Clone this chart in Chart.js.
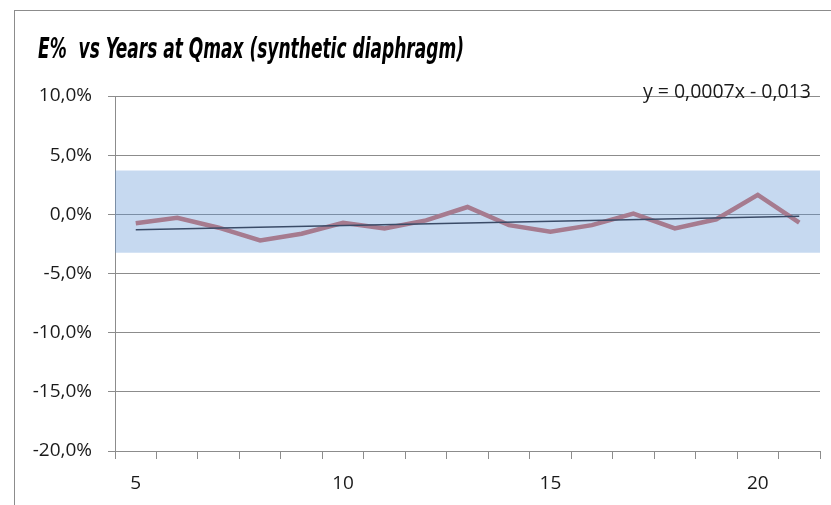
<!DOCTYPE html>
<html>
<head>
<meta charset="utf-8">
<script src="https://cdn.jsdelivr.net/npm/chart.js@4.4.0/dist/chart.umd.min.js"></script>
<style>
html, body { margin: 0; padding: 0; background: #fff; }
#wrap { width: 831px; height: 505px; }
</style>
</head>
<body>
<div id="wrap"><canvas id="chart" width="831" height="505"></canvas></div>
<script>
// values, in percent
var years = [5, 6, 7, 8, 9, 10, 11, 12, 13, 14, 15, 16, 17, 18, 19, 20, 21];
var ePercent = [-0.76, -0.29, -1.13, -2.20, -1.64, -0.71, -1.19, -0.51, 0.62,
                -0.91, -1.47, -0.91, 0.06, -1.19, -0.42, 1.64, -0.71];
// linear trend, only its two end points
var trendPercent = [-1.30, null, null, null, null, null, null, null, null,
                    null, null, null, null, null, null, null, -0.17];
var bandTop = 3.7;
var bandBottom = -3.25;
var yMin = -20, yMax = 10, yStep = 5;

var chartTitle = 'E%  vs Years at Qmax (synthetic diaphragm)';
var trendLabel = 'y = 0,0007x - 0,013';

var gridColor = '#8c8c8c';

Chart.defaults.font.family = "'Open Sans', sans-serif";
Chart.defaults.font.size = 19;
Chart.defaults.color = '#1a1a1a';

var textPlugin = {
    id: 'frameAndText',
    beforeDraw: function (chart) {
        var ctx = chart.ctx;
        ctx.save();
        ctx.strokeStyle = '#8c8c8c';
        ctx.lineWidth = 1;
        ctx.strokeRect(14.5, 10.5, 900, 600);
        ctx.restore();
    },
    afterDraw: function (chart) {
        var ctx = chart.ctx;
        ctx.save();
        ctx.fillStyle = '#000';
        ctx.textBaseline = 'alphabetic';
        ctx.textAlign = 'left';
        ctx.font = 'italic bold 29px "Liberation Sans Narrow", "DejaVu Sans Condensed", sans-serif';
        ctx.fillText(chartTitle, 38, 58, 426);
        ctx.textAlign = 'right';
        ctx.fillStyle = '#1a1a1a';
        ctx.font = '19.5px "Open Sans", sans-serif';
        ctx.fillText(trendLabel, 811, 98, 180);
        ctx.restore();
    }
};

// the band runs across the whole plot, on a hidden 0..1 axis
var bandEdge = [0, 1];

var chart = new Chart(document.getElementById('chart'), {
    type: 'line',
    data: {
        labels: years,
        datasets: [{
            label: 'Trend',
            data: trendPercent,
            borderColor: '#3a4b67',
            borderWidth: 1.5,
            pointRadius: 0,
            spanGaps: true,
            order: 0
        }, {
            label: 'E%',
            data: ePercent,
            borderColor: '#a67b8f',
            borderWidth: 4.5,
            pointRadius: 0,
            tension: 0,
            order: 1
        }, {
            label: 'Band top',
            data: bandEdge.map(function (e) { return { x: e, y: bandTop }; }),
            xAxisID: 'xb',
            borderWidth: 0,
            pointRadius: 0,
            fill: '+1',
            backgroundColor: 'rgba(92,146,212,0.35)',
            order: 2
        }, {
            label: 'Band bottom',
            data: bandEdge.map(function (e) { return { x: e, y: bandBottom }; }),
            xAxisID: 'xb',
            borderWidth: 0,
            pointRadius: 0,
            fill: false,
            order: 3
        }]
    },
    options: {
        responsive: false,
        animation: false,
        layout: { padding: { top: 96, right: 11, bottom: 0, left: 0 } },
        plugins: {
            legend: { display: false },
            tooltip: { enabled: false }
        },
        scales: {
            x: {
                type: 'category',
                offset: true,
                grid: {
                    offset: true,
                    drawOnChartArea: false,
                    tickLength: 8,
                    color: gridColor
                },
                border: { color: gridColor },
                ticks: {
                    autoSkip: false,
                    maxRotation: 0,
                    padding: 13,
                    callback: function (val, idx) {
                        var y = years[idx];
                        return y % 5 === 0 ? String(y) : '';
                    }
                },
                afterFit: function (s) { s.height = 54; }
            },
            xb: {
                type: 'linear',
                min: 0,
                max: 1,
                display: false
            },
            y: {
                min: yMin,
                max: yMax,
                grid: { color: gridColor, tickLength: 7 },
                border: { color: gridColor },
                ticks: {
                    stepSize: yStep,
                    padding: 16,
                    callback: function (v) {
                        return v.toFixed(1).replace('.', ',') + '%';
                    }
                },
                afterFit: function (s) { s.width = 115; }
            }
        }
    },
    plugins: [textPlugin]
});
</script>
</body>
</html>
